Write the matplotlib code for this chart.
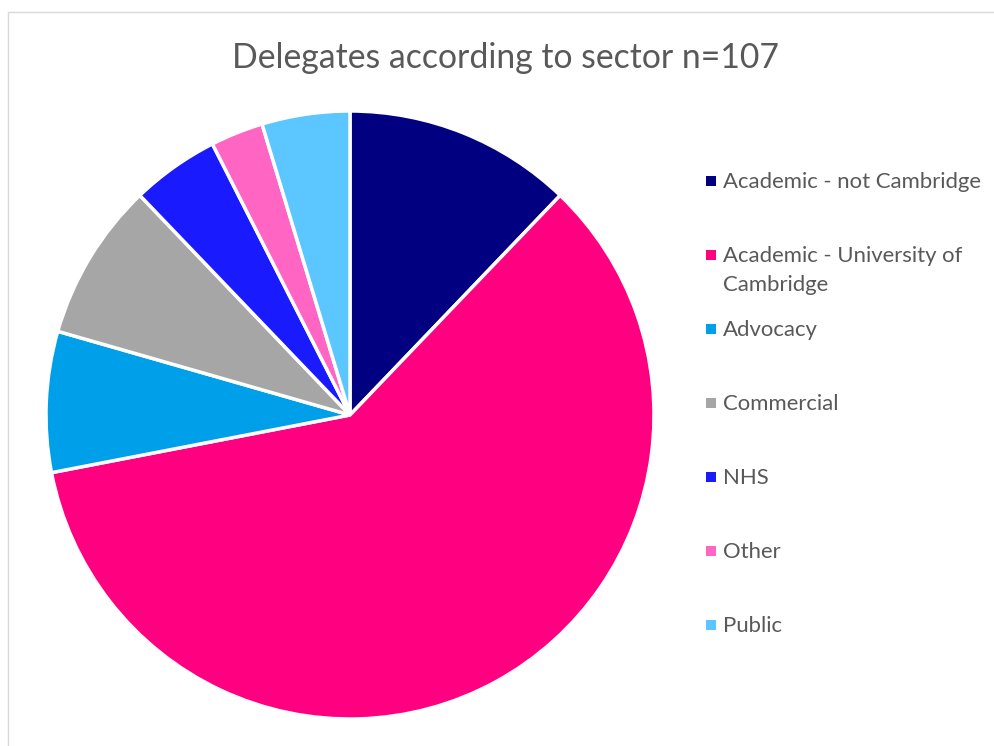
import textwrap
import matplotlib
matplotlib.use("Agg")
import matplotlib.pyplot as plt
from matplotlib.patches import Rectangle

# data (n=107)
sectors = ["Academic - not Cambridge", "Academic - University of Cambridge",
           "Advocacy", "Commercial", "NHS", "Other", "Public"]
counts = [13, 64, 8, 9, 5, 3, 5]
colours = ["#000080", "#FF0080", "#009FEA", "#A6A6A6", "#1A1AFF", "#FF66C4", "#5BC6FF"]
title = "Delegates according to sector n=107"

W, H = 994, 746
plt.rcParams['font.family'] = ['Lato', 'DejaVu Sans']
fig = plt.figure(figsize=(W / 100, H / 100), dpi=100)

# light chart-area border (runs off the right and bottom edges)
fig.patches.append(Rectangle((8 / W, -0.5), 1.2, 1.5 - 12 / H, transform=fig.transFigure,
                             fill=False, edgecolor="#D9D9D9", linewidth=1))

cx, cy, r = 350, 415, 304
ax = fig.add_axes([(cx - r) / W, (H - cy - r) / H, 2 * r / W, 2 * r / H])
ax.pie(counts, colors=colours, startangle=90, counterclock=False, radius=1,
       wedgeprops=dict(edgecolor="white", linewidth=2.5))
ax.set_xlim(-1, 1)
ax.set_ylim(-1, 1)
ax.set_aspect("equal")
ax.axis("off")

fig.text(506 / W, 1 - 58 / H, title, ha="center", va="center",
         fontsize=24.3, color="#595959")

# legend, drawn by hand to match the spacing
y0, step = 181, 74
for i, (lab, col) in enumerate(zip(sectors, colours)):
    y = y0 + i * step
    fig.patches.append(Rectangle((706 / W, 1 - (y + 5) / H), 10 / W, 10 / H,
                                 transform=fig.transFigure, facecolor=col,
                                 edgecolor="none"))
    fig.text(723 / W, 1 - (y - 9) / H, textwrap.fill(lab, 24), ha="left", va="top",
             fontsize=15.9, color="#595959", linespacing=1.55)

fig.savefig("out.png", dpi=100)
